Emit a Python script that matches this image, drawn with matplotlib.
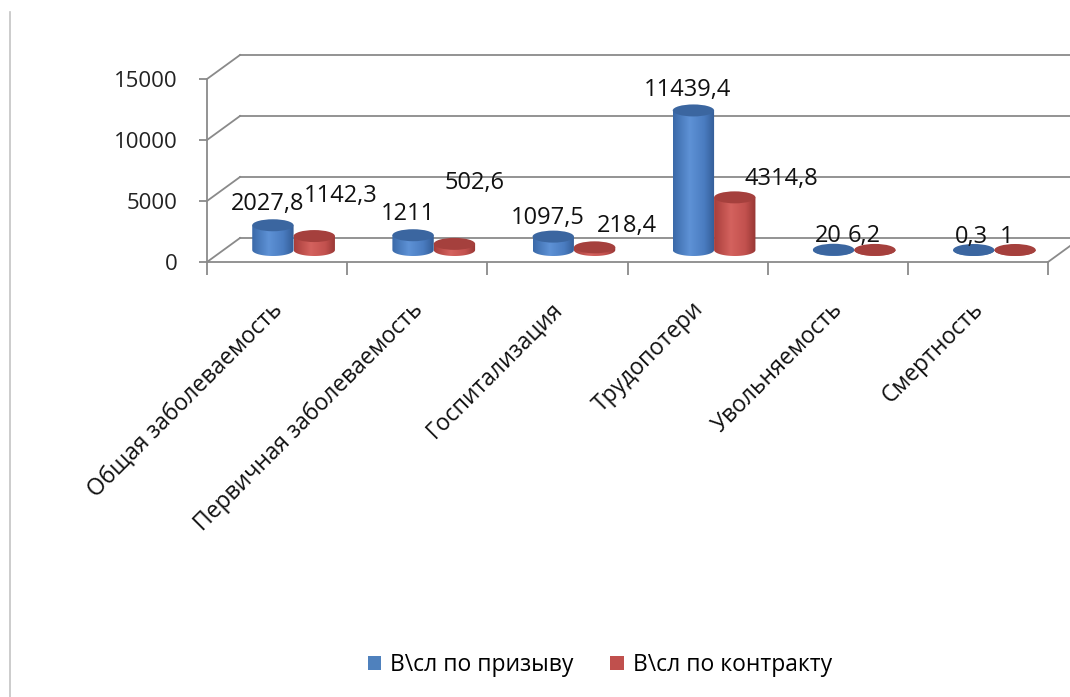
import numpy as np
import matplotlib.pyplot as plt
import matplotlib.transforms as mtrans
from matplotlib.patches import Ellipse, Patch, PathPatch
from matplotlib.path import Path
from matplotlib.lines import Line2D
from matplotlib.colors import LinearSegmentedColormap

plt.rcParams['font.family'] = ['Open Sans', 'DejaVu Sans']

categories = ['Общая заболеваемость', 'Первичная заболеваемость', 'Госпитализация',
              'Трудопотери', 'Увольняемость', 'Смертность']
conscript = [2027.8, 1211, 1097.5, 11439.4, 20, 0.3]
contract = [1142.3, 502.6, 218.4, 4314.8, 6.2, 1]
series_names = ['В\\сл по призыву', 'В\\сл по контракту']
yticks = [0, 5000, 10000, 15000]

# where each value label sits relative to the top of its bar (pixels)
lab_off_conscript = [(-5, 21), (-5, 21), (-5, 19), (-6, 20), (-5, 14), (-2, 13)]
lab_off_contract = [(26, 40), (20, 61), (32, 21), (47, 18), (-11, 14), (-8, 13)]

DPI = 100
fig = plt.figure(figsize=(10.7, 6.97), dpi=DPI)
fig.patch.set_facecolor('white')

# front plane of the 3d box
ax = fig.add_axes([207 / 1070, (697 - 262) / 697, 841 / 1070, 183 / 697])
ax.set_xlim(0, 6)
ax.set_ylim(0, 15000)
ax.patch.set_visible(False)

grid_c = '#8a8a8a'
depth = (33, 24)   # px shift from the front plane to the back wall
back = ax.transData + mtrans.ScaledTranslation(depth[0] / DPI, depth[1] / DPI, fig.dpi_scale_trans)
mid = ax.transData + mtrans.ScaledTranslation(depth[0] / 2 / DPI, depth[1] / 2 / DPI, fig.dpi_scale_trans)

# back wall gridlines + left wall diagonals
for v in yticks:
    ax.plot([0, 6], [v, v], color=grid_c, lw=1.3, transform=back, clip_on=False, zorder=1)
    p0 = ax.transData.transform((0, v))
    fig.add_artist(Line2D([p0[0], p0[0] + depth[0]], [p0[1], p0[1] + depth[1]],
                          color=grid_c, lw=1.3, transform=None, zorder=1))
# right edge of the floor
p0 = ax.transData.transform((6, 0))
fig.add_artist(Line2D([p0[0], p0[0] + depth[0]], [p0[1], p0[1] + depth[1]],
                      color=grid_c, lw=1.3, transform=None, zorder=1))

for s in ['top', 'right']:
    ax.spines[s].set_visible(False)
ax.spines['left'].set_color(grid_c)
ax.spines['bottom'].set_color(grid_c)
ax.spines['left'].set_linewidth(1.3)
ax.spines['bottom'].set_linewidth(1.3)
ax.set_yticks(yticks)
ax.set_yticklabels([str(t) for t in yticks])
ax.tick_params(axis='y', direction='out', length=6, width=1.3, color=grid_c,
               pad=15, labelsize=16, labelcolor='#222222')
ax.set_xticks(range(7))
ax.set_xticklabels([])
ax.tick_params(axis='x', direction='out', length=9, width=1.3, color=grid_c)

cmap_blue = LinearSegmentedColormap.from_list('b', [(0, '#3a69a8'), (0.4, '#5e92d6'),
                                                    (0.75, '#4a7cc0'), (1, '#335c96')])
cmap_red = LinearSegmentedColormap.from_list('r', [(0, '#a83e3b'), (0.4, '#d4625e'),
                                                   (0.75, '#c2514e'), (1, '#963634')])

bar_w = 0.295
cap_px = 12
b = cap_px / 2 * 15000 / ax.bbox.height   # half height of the ellipse in value units
grad = np.linspace(0, 1, 256).reshape(1, -1)


def cylinder(c, v, cmap, cap_color):
    a = bar_w / 2
    t = np.linspace(np.pi, 2 * np.pi, 40)
    verts = [(c - a, v)] + list(zip(c + a * np.cos(t), b * np.sin(t))) + [(c + a, v), (c - a, v)]
    path = Path(verts, closed=True)
    clip = PathPatch(path, transform=mid, facecolor='none', edgecolor='none')
    ax.add_patch(clip)
    im = ax.imshow(grad, cmap=cmap, aspect='auto', extent=[c - a, c + a, -b, v],
                   interpolation='bilinear', zorder=3)
    im.set_transform(mid)
    im.set_clip_path(clip)
    ax.add_patch(Ellipse((c, v), 2 * a, 2 * b, transform=mid, facecolor=cap_color,
                         edgecolor='none', zorder=4, clip_on=False))


def fmt(v):
    return f'{v:g}'.replace('.', ',')


for i in range(len(categories)):
    cb = i + 0.5 - bar_w / 2
    cr = i + 0.5 + bar_w / 2
    cylinder(cb, conscript[i], cmap_blue, '#3b66a0')
    cylinder(cr, contract[i], cmap_red, '#a5403d')
    ax.annotate(fmt(conscript[i]), xy=(cb, conscript[i]), xycoords=mid,
                xytext=lab_off_conscript[i], textcoords='offset pixels',
                ha='center', va='center', fontsize=17, color='#111111', zorder=6,
                annotation_clip=False)
    ax.annotate(fmt(contract[i]), xy=(cr, contract[i]), xycoords=mid,
                xytext=lab_off_contract[i], textcoords='offset pixels',
                ha='center', va='center', fontsize=17, color='#111111', zorder=6,
                annotation_clip=False)
    ax.annotate(categories[i], xy=(i + 0.5, 0), xycoords='data', xytext=(2, -44),
                textcoords='offset pixels', rotation=45, rotation_mode='anchor',
                ha='right', va='center', fontsize=16.5, color='#111111',
                annotation_clip=False)

ax.set_xlim(0, 6)
ax.set_ylim(0, 15000)

handles = [Patch(facecolor='#4f81bd'), Patch(facecolor='#c0504d')]
fig.legend(handles, series_names, loc='center', bbox_to_anchor=(600 / 1070, 32 / 697),
           ncol=2, frameon=False, fontsize=16.5, handlelength=0.6, handleheight=0.6,
           handletextpad=0.4, columnspacing=1.6)

# thin frame line on the left
fig.add_artist(Line2D([10 / 1070] * 2, [0, 1 - 12 / 697], color='#c4c4c4', lw=1.2))

fig.savefig('out.png', dpi=DPI)
